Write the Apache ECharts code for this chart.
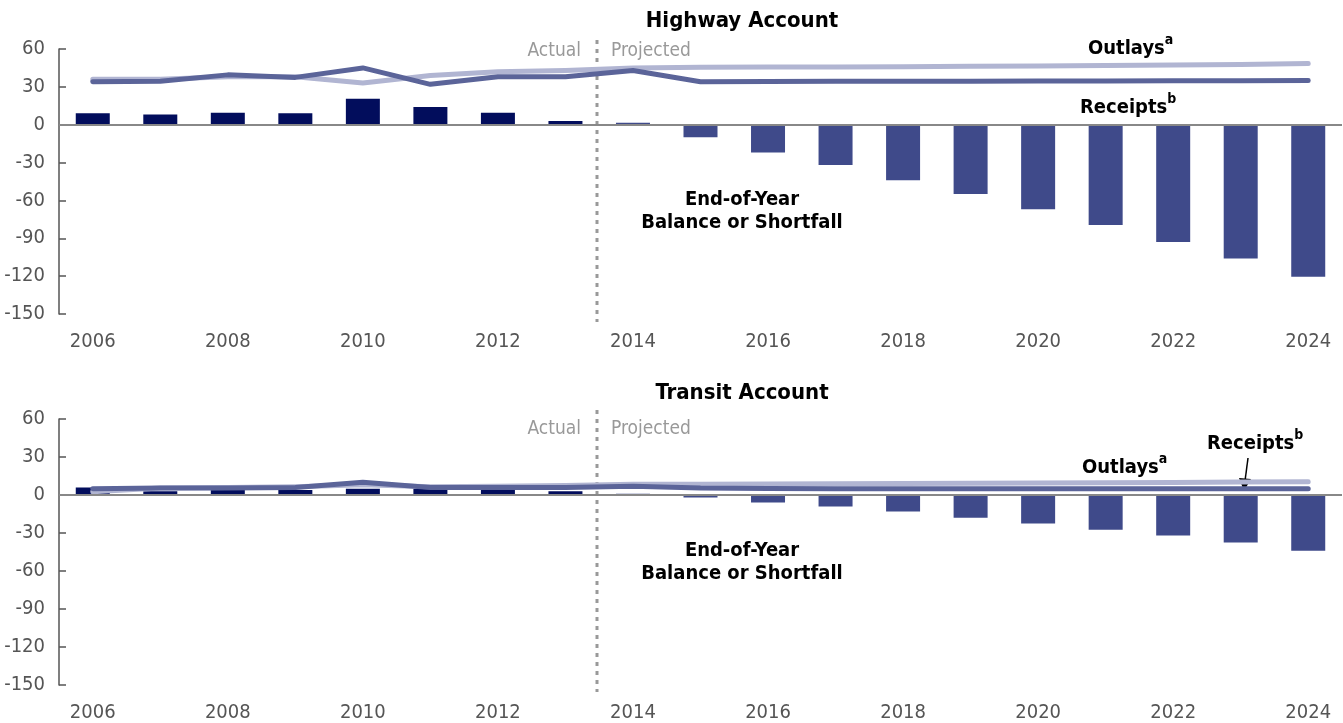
<!DOCTYPE html>
<html>
<head>
<meta charset="utf-8">
<script src="https://cdn.jsdelivr.net/npm/echarts@6/dist/echarts.min.js"></script>
<style>
  html, body { margin: 0; padding: 0; background: #fff; }
  #chart { width: 1343px; height: 723px; }
</style>
</head>
<body>
<div id="chart"></div>
<script>
// years on the category axis
const years = ['2006','2007','2008','2009','2010','2011','2012','2013','2014','2015',
               '2016','2017','2018','2019','2020','2021','2022','2023','2024'];
const firstProjected = 8; // index of 2014

// Highway Account (billions of dollars)
const hwyBalance  = [9, 8, 9.5, 9, 20.5, 14, 9.5, 3, 1.5, -10, -22, -32, -44, -55, -67, -79.5, -93, -106, -120.5];
const hwyReceipts = [34, 34.5, 39.5, 37.5, 45, 32, 38, 38, 43, 34, 34.2, 34.4, 34.5, 34.5, 34.6, 34.7, 34.8, 34.9, 35];
const hwyOutlays  = [36, 36, 38, 38, 33, 39, 42, 43, 45, 45.5, 45.7, 45.8, 46, 46.3, 46.6, 47, 47.4, 47.8, 48.5];

// Transit Account
const trBalance  = [6, 3, 4, 4, 5, 5, 4, 3, 1, -2, -6, -9, -13, -18, -22.5, -27.5, -32, -37.5, -44];
const trReceipts = [5, 5.5, 5.5, 6, 10, 6, 6, 6, 7, 5.5, 5.2, 5, 5, 5, 5, 5, 5, 5, 5];
const trOutlays  = [2.5, 5.5, 6, 6.5, 8, 6.5, 7, 7.5, 8.5, 8.5, 8.7, 8.9, 9.1, 9.3, 9.5, 9.7, 9.9, 10.2, 10.5];

const yTicks = [-150, -120, -90, -60, -30, 0, 30, 60];

const FONT = '"Liberation Sans Narrow", "DejaVu Sans Condensed", sans-serif';
const C_ACTUAL = '#020d5c';
const C_PROJ = '#3f4a8a';
const C_REC = '#5b6499';
const C_OUT = '#b1b5d2';

const chart = echarts.init(document.getElementById('chart'));

const barData = vals => vals.map((v, i) => ({
    value: v,
    itemStyle: { color: i < firstProjected ? C_ACTUAL : C_PROJ }
}));

const xAxisFor = idx => ({
    type: 'category', gridIndex: idx, data: years,
    axisLine: { show: false }, axisTick: { show: false },
    axisLabel: { interval: 1, fontFamily: FONT, fontSize: 20, color: '#555', margin: 18 }
});

const yAxisFor = idx => ({
    type: 'value', gridIndex: idx, min: yTicks[0], max: yTicks[yTicks.length - 1], interval: 30,
    splitLine: { show: false },
    axisLine: { show: true, lineStyle: { color: '#555', width: 1.5 } },
    axisTick: { show: true, inside: true, length: 7, lineStyle: { color: '#555', width: 1.5 } },
    axisLabel: { fontFamily: FONT, fontSize: 20, color: '#555', margin: 14 }
});

const zeroLine = {
    silent: true, symbol: 'none', label: { show: false },
    lineStyle: { color: '#888', width: 2, type: 'solid' },
    data: [{ yAxis: 0 }]
};

const lineSeries = (name, data, color, idx, z) => ({
    name, type: 'line', xAxisIndex: idx, yAxisIndex: idx, data,
    symbol: 'none', z,
    lineStyle: { color, width: 5, cap: 'round', join: 'round' }
});

const txt = (x, y, text, opts) => ({
    type: 'text', x, y,
    style: Object.assign({ text, font: '20px ' + FONT, fill: '#000' }, opts)
});

const label = (x, y, main, sup) => ({
    type: 'text', x, y,
    style: {
        text: '{m|' + main + '}{s|' + sup + '}',
        rich: {
            m: { fontFamily: FONT, fontSize: 20, fontWeight: 'bold', fill: '#000', lineHeight: 26, verticalAlign: 'bottom' },
            s: { fontFamily: FONT, fontSize: 14, fontWeight: 'bold', fill: '#000', lineHeight: 26, verticalAlign: 'top' }
        }
    }
});

const dots = (y1, y2) => ({
    type: 'line', shape: { x1: 597, y1, x2: 597, y2 },
    style: { stroke: '#999', lineWidth: 3, lineDash: [4, 5] }
});

chart.setOption({
    animation: false,
    grid: [
        { left: 59, right: 1, top: 49, height: 265 },
        { left: 59, right: 1, top: 419, height: 266 }
    ],
    xAxis: [xAxisFor(0), xAxisFor(1)],
    yAxis: [yAxisFor(0), yAxisFor(1)],
    series: [
        { name: 'Highway balance', type: 'bar', xAxisIndex: 0, yAxisIndex: 0, barWidth: 34,
          data: barData(hwyBalance), markLine: zeroLine, z: 2 },
        lineSeries('Highway outlays', hwyOutlays, C_OUT, 0, 3),
        lineSeries('Highway receipts', hwyReceipts, C_REC, 0, 4),
        { name: 'Transit balance', type: 'bar', xAxisIndex: 1, yAxisIndex: 1, barWidth: 34,
          data: barData(trBalance), markLine: zeroLine, z: 2 },
        lineSeries('Transit outlays', trOutlays, C_OUT, 1, 3),
        lineSeries('Transit receipts', trReceipts, C_REC, 1, 4)
    ],
    graphic: [
        txt(742, 10, 'Highway Account', { font: 'bold 22px ' + FONT, align: 'center' }),
        txt(742, 382, 'Transit Account', { font: 'bold 22px ' + FONT, align: 'center' }),

        dots(40, 322), dots(410, 692),
        txt(581, 42, 'Actual', { fill: '#999', align: 'right', font: '19px ' + FONT }),
        txt(611, 42, 'Projected', { fill: '#999', font: '19px ' + FONT }),
        txt(581, 420, 'Actual', { fill: '#999', align: 'right', font: '19px ' + FONT }),
        txt(611, 420, 'Projected', { fill: '#999', font: '19px ' + FONT }),

        label(1088, 33, 'Outlays', 'a'),
        label(1080, 92, 'Receipts', 'b'),
        txt(742, 190, 'End-of-Year', { font: 'bold 20px ' + FONT, align: 'center' }),
        txt(742, 213, 'Balance or Shortfall', { font: 'bold 20px ' + FONT, align: 'center' }),

        label(1082, 452, 'Outlays', 'a'),
        label(1207, 428, 'Receipts', 'b'),
        txt(742, 541, 'End-of-Year', { font: 'bold 20px ' + FONT, align: 'center' }),
        txt(742, 564, 'Balance or Shortfall', { font: 'bold 20px ' + FONT, align: 'center' }),
        { type: 'line', shape: { x1: 1248, y1: 458, x2: 1245, y2: 481 },
          style: { stroke: '#000', lineWidth: 1.5 } },
        { type: 'polygon', shape: { points: [[1239, 478], [1251, 479], [1244, 491]] },
          style: { fill: '#000' } }
    ]
});
</script>
</body>
</html>
